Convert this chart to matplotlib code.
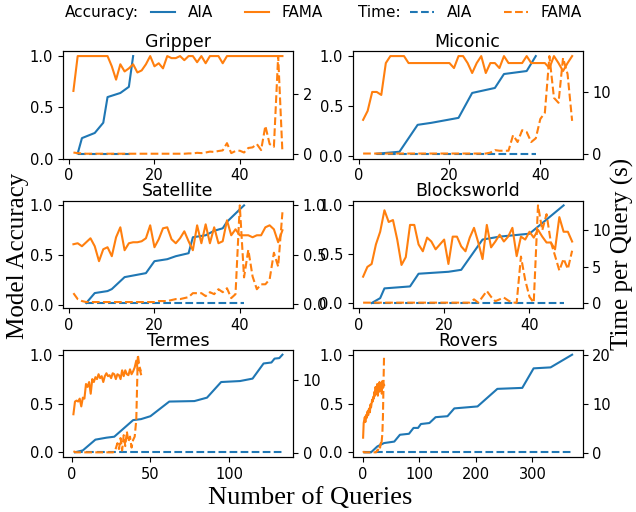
import matplotlib
matplotlib.use("Agg")
import matplotlib.pyplot as plt
from matplotlib.lines import Line2D

# ---- data ----
gripper_aia_x = [2, 3, 6, 8, 9, 12, 14, 15]
gripper_aia_acc = [0.05, 0.2, 0.25, 0.35, 0.6, 0.64, 0.7, 1.0]
gripper_aia_time = [0.01, 0.01, 0.01, 0.01, 0.01, 0.01, 0.01, 0.01]
gripper_fama_acc = [0.66, 1.0, 1.0, 1.0, 1.0, 1.0, 1.0, 1.0, 1.0, 0.9,
                    0.77, 0.92, 0.85, 0.88, 0.92, 0.84, 0.86, 0.92, 1.0, 0.9,
                    0.93, 0.88, 1.0, 0.98, 0.98, 1.0, 0.96, 1.0, 1.0, 0.94,
                    1.0, 0.93, 1.0, 1.0, 1.0, 0.93, 1.0, 1.0, 1.0, 1.0,
                    1.0, 1.0, 1.0, 1.0, 1.0, 1.0, 1.0, 1.0, 1.0, 1.0]
gripper_fama_time = [0.05, 0.03, 0.02, 0.01, 0.01, 0.01, 0.01, 0.01, 0.01, 0.01,
                     0.01, 0.01, 0.01, 0.01, 0.01, 0.01, 0.01, 0.01, 0.01, 0.01,
                     0.01, 0.01, 0.01, 0.01, 0.01, 0.01, 0.01, 0.02, 0.02, 0.04,
                     0.03, 0.05, 0.08, 0.07, 0.1, 0.12, 0.36, 0.03, 0.1, 0.11,
                     0.05, 0.2, 0.22, 0.33, 0.13, 0.93, 0.33, 0.24, 3.24, 0.05]

miconic_aia_x = [4, 9, 13, 16, 22, 25, 30, 32, 37, 39]
miconic_aia_acc = [0.02, 0.04, 0.31, 0.33, 0.38, 0.63, 0.68, 0.82, 0.85, 1.0]
miconic_aia_time = [0.02, 0.02, 0.02, 0.02, 0.02, 0.02, 0.02, 0.02, 0.02, 0.02]
miconic_fama_acc = [0.36, 0.45, 0.64, 0.64, 0.61, 0.93, 1.0, 1.0, 1.0, 1.0,
                    0.93, 0.93, 0.93, 0.93, 0.93, 0.93, 0.93, 0.93, 0.93, 0.93,
                    0.88, 1.0, 1.0, 0.93, 0.83, 0.93, 1.0, 0.83, 0.93, 0.93,
                    0.88, 1.0, 0.93, 0.93, 0.93, 0.93, 1.0, 0.93, 0.93, 0.93,
                    0.93, 0.88, 1.0, 0.93, 0.85, 0.93, 1.0]
miconic_fama_time = [0.05, 0.05, 0.05, 0.05, 0.05, 0.05, 0.05, 0.05, 0.05, 0.05,
                     0.05, 0.05, 0.05, 0.05, 0.05, 0.05, 0.05, 0.05, 0.05, 0.05,
                     0.05, 0.05, 0.05, 0.05, 0.05, 0.05, 0.05, 0.05, 0.2, 0.6,
                     0.5, 0.5, 0.5, 3.0, 1.9, 3.8, 3.5, 1.9, 2.5, 5.6,
                     6.6, 15.7, 9.0, 8.2, 15.4, 12.8, 5.3]

satellite_aia_x = [4, 6, 9, 10, 13, 18, 20, 23, 25, 28, 29, 32, 34, 36, 37, 40, 41]
satellite_aia_acc = [0.02, 0.12, 0.14, 0.16, 0.28, 0.32, 0.44, 0.46, 0.49, 0.52,
                     0.68, 0.70, 0.745, 0.77, 0.835, 0.96, 1.0]
satellite_aia_time = [0.01, 0.01, 0.01, 0.01, 0.01, 0.01, 0.01, 0.01, 0.01, 0.01,
                      0.01, 0.01, 0.01, 0.01, 0.01, 0.01, 0.01]
satellite_fama_acc = [0.61, 0.62, 0.59, 0.63, 0.67, 0.59, 0.44, 0.56, 0.58, 0.49,
                      0.68, 0.78, 0.55, 0.62, 0.63, 0.63, 0.64, 0.67, 0.80, 0.58,
                      0.66, 0.77, 0.78, 0.66, 0.62, 0.67, 0.74, 0.64, 0.55, 0.80,
                      0.62, 0.81, 0.62, 0.78, 0.62, 0.64, 0.85, 0.70, 0.76, 0.70,
                      0.70, 0.70, 0.68, 0.70, 0.70, 0.78, 0.80, 0.76, 0.63, 0.75]
satellite_fama_time = [0.11, 0.05, 0.03, 0.02, 0.02, 0.02, 0.02, 0.02, 0.02, 0.02,
                       0.02, 0.02, 0.02, 0.02, 0.02, 0.02, 0.02, 0.02, 0.02, 0.02,
                       0.03, 0.03, 0.03, 0.04, 0.05, 0.05, 0.06, 0.07, 0.11, 0.11,
                       0.11, 0.08, 0.12, 0.1, 0.15, 0.12, 0.16, 0.06, 0.1, 1.0,
                       0.27, 0.55, 0.28, 0.15, 0.2, 0.2, 0.25, 0.52, 0.38, 0.93]

blocks_aia_x = [3, 5, 6, 12, 14, 21, 24, 29, 33, 40, 48]
blocks_aia_acc = [0.0, 0.05, 0.15, 0.17, 0.30, 0.32, 0.34, 0.65, 0.68, 0.71, 1.0]
blocks_aia_time = [0.05, 0.05, 0.05, 0.05, 0.05, 0.05, 0.05, 0.05, 0.05, 0.05, 0.05]
blocks_fama_acc = [0.27, 0.37, 0.40, 0.60, 0.73, 0.95, 0.83, 0.85, 0.65, 0.39,
                   0.47, 0.80, 0.80, 0.60, 0.53, 0.67, 0.63, 0.55, 0.60, 0.65,
                   0.40, 0.68, 0.68, 0.58, 0.53, 0.67, 0.77, 0.62, 0.45, 0.80,
                   0.57, 0.63, 0.70, 0.63, 0.68, 0.77, 0.48, 0.68, 0.65, 0.73,
                   0.67, 0.75, 0.68, 0.62, 0.62, 0.55, 0.88, 0.73, 0.73, 0.63]
blocks_fama_time = [0.1, 0.1, 0.1, 0.1, 0.1, 0.1, 0.1, 0.1, 0.1, 0.1,
                    0.1, 0.1, 0.1, 0.1, 0.1, 0.1, 0.1, 0.1, 0.1, 0.1,
                    0.1, 0.1, 0.1, 0.1, 0.1, 0.1, 0.55, 0.1, 0.9, 1.7,
                    0.9, 0.3, 0.55, 0.8, 0.4, 0.1, 0.1, 6.4, 3.2, 0.9,
                    0.1, 13.4, 10.0, 12.2, 8.4, 6.5, 4.5, 6.1, 4.7, 7.2]

termes_aia_x = [2, 7, 15, 22, 27, 39, 44, 50, 62, 78, 86, 95, 107, 115, 122, 127, 129, 132, 134]
termes_aia_acc = [0.0, 0.02, 0.13, 0.15, 0.16, 0.33, 0.34, 0.37, 0.52, 0.525,
                  0.56, 0.72, 0.73, 0.755, 0.91, 0.92, 0.96, 0.965, 1.0]
termes_aia_time = [0.05, 0.05, 0.05, 0.05, 0.05, 0.05, 0.05, 0.05, 0.05, 0.05,
                   0.05, 0.05, 0.05, 0.05, 0.05, 0.05, 0.05, 0.05, 0.05]
termes_fama_acc = [0.39, 0.52, 0.53, 0.52, 0.55, 0.47, 0.56, 0.55, 0.70, 0.67,
                   0.72, 0.60, 0.75, 0.72, 0.77, 0.75, 0.80, 0.76, 0.78, 0.72,
                   0.78, 0.81, 0.78, 0.79, 0.76, 0.81, 0.80, 0.75, 0.80, 0.79,
                   0.75, 0.84, 0.78, 0.84, 0.80, 0.79, 0.85, 0.80, 0.83, 0.87,
                   0.94, 0.84, 0.86, 0.80]
termes_fama_time = [0.2, 0.1, 0.05, 0.05, 0.05, 0.05, 0.05, 0.05, 0.05, 0.05,
                    0.05, 0.05, 0.05, 0.05, 0.05, 0.05, 0.05, 0.05, 0.05, 0.05,
                    0.05, 0.05, 0.05, 0.05, 0.05, 0.05, 0.1, 0.6, 1.3, 0.5,
                    2.0, 0.3, 2.4, 0.9, 2.9, 1.5, 2.2, 0.7, 1.75, 2.2,
                    4.5, 13.4, 11.8, 11.1]

rovers_aia_x = [3, 15, 26, 38, 56, 66, 82, 90, 98, 103, 118, 129, 150, 162, 203, 238, 282, 302, 332, 370]
rovers_aia_acc = [0.0, 0.0, 0.06, 0.095, 0.11, 0.18, 0.19, 0.25, 0.25, 0.29,
                  0.30, 0.36, 0.37, 0.45, 0.47, 0.65, 0.66, 0.86, 0.87, 1.0]
rovers_aia_time = [0.05, 0.05, 0.05, 0.05, 0.05, 0.05, 0.05, 0.05, 0.05, 0.05,
                   0.05, 0.05, 0.05, 0.05, 0.05, 0.05, 0.05, 0.05, 0.05, 0.05]
rovers_fama_acc = [0.15, 0.30, 0.33, 0.36, 0.31, 0.38, 0.35, 0.40, 0.42, 0.38,
                   0.44, 0.45, 0.41, 0.49, 0.46, 0.50, 0.54, 0.52, 0.57, 0.55,
                   0.62, 0.58, 0.67, 0.60, 0.62, 0.70, 0.58, 0.68, 0.62, 0.72,
                   0.63, 0.66, 0.70, 0.60, 0.73, 0.66, 0.70, 0.69]
rovers_fama_time = [0.3, 0.1, 0.05, 0.05, 0.05, 0.05, 0.05, 0.05, 0.05, 0.05,
                    0.05, 0.05, 0.05, 0.05, 0.05, 0.05, 0.05, 0.05, 0.05, 0.05,
                    0.05, 0.05, 0.05, 0.05, 0.3, 0.5, 0.4, 0.9, 0.7, 1.2,
                    1.0, 1.9, 1.5, 2.6, 3.9, 7.3, 14.0, 20.0]

panels = [
    ("Gripper", gripper_aia_x, gripper_aia_acc, gripper_aia_time, gripper_fama_acc, gripper_fama_time,
     [0, 20, 40], [0, 2]),
    ("Miconic", miconic_aia_x, miconic_aia_acc, miconic_aia_time, miconic_fama_acc, miconic_fama_time,
     [0, 20, 40], [0, 10]),
    ("Satellite", satellite_aia_x, satellite_aia_acc, satellite_aia_time, satellite_fama_acc, satellite_fama_time,
     [0, 20, 40], [0.0, 0.5, 1.0]),
    ("Blocksworld", blocks_aia_x, blocks_aia_acc, blocks_aia_time, blocks_fama_acc, blocks_fama_time,
     [0, 20, 40], [0, 5, 10]),
    ("Termes", termes_aia_x, termes_aia_acc, termes_aia_time, termes_fama_acc, termes_fama_time,
     [0, 50, 100], [0, 10]),
    ("Rovers", rovers_aia_x, rovers_aia_acc, rovers_aia_time, rovers_fama_acc, rovers_fama_time,
     [0, 100, 200, 300], [0, 10, 20]),
]

blue = "#1f77b4"
orange = "#ff7f0e"

fig, axes = plt.subplots(3, 2, figsize=(6.36, 5.12), dpi=100)
fig.subplots_adjust(left=0.099, right=0.916, bottom=0.107, top=0.90, wspace=0.26, hspace=0.39)

for ax, (title, ax_x, a_acc, a_time, f_acc, f_time, xt, rt) in zip(axes.flat, panels):
    fx = list(range(1, len(f_acc) + 1))
    ax2 = ax.twinx()
    ax.plot(ax_x, a_acc, color=blue, lw=1.5)
    ax.plot(fx, f_acc, color=orange, lw=1.5)
    ax2.plot(ax_x, a_time, color=blue, lw=1.5, ls="--")
    ax2.plot(fx, f_time, color=orange, lw=1.5, ls="--")
    ax.set_title(title, fontsize=12.5, pad=3)
    ax.set_xticks(xt)
    ax.set_yticks([0.0, 0.5, 1.0])
    ax2.set_yticks(rt)
    ax.tick_params(labelsize=10.5)
    ax2.tick_params(labelsize=10.5)

fig.text(0.028, 0.5, "Model Accuracy", rotation=90, ha="center", va="center",
         family="Liberation Serif", fontsize=18)
fig.text(0.978, 0.505, "Time per Query (s)", rotation=90, ha="center", va="center",
         family="Liberation Serif", fontsize=18)
fig.text(0.487, 0.027, "Number of Queries", ha="center", va="center",
         family="Liberation Serif", fontsize=19)

# legend row: group labels as text, two small legends for the lines
fig.text(65 / 636, 0.975, "Accuracy:", ha="left", va="center", fontsize=11)
fig.text(358 / 636, 0.975, "Time:", ha="left", va="center", fontsize=11)
acc_handles = [Line2D([], [], color=blue, lw=1.5), Line2D([], [], color=orange, lw=1.5)]
time_handles = [Line2D([], [], color=blue, lw=1.5, ls="--"),
                Line2D([], [], color=orange, lw=1.5, ls="--")]
for hs, x0 in [(acc_handles, 151 / 636), (time_handles, 410 / 636)]:
    fig.legend(hs, ["AIA", "FAMA"], ncol=2, loc="center left", bbox_to_anchor=(x0, 0.975),
               frameon=False, fontsize=11, handlelength=1.6, handletextpad=0.8,
               columnspacing=2.1, borderpad=0, borderaxespad=0)

fig.savefig("out.png", dpi=100)
